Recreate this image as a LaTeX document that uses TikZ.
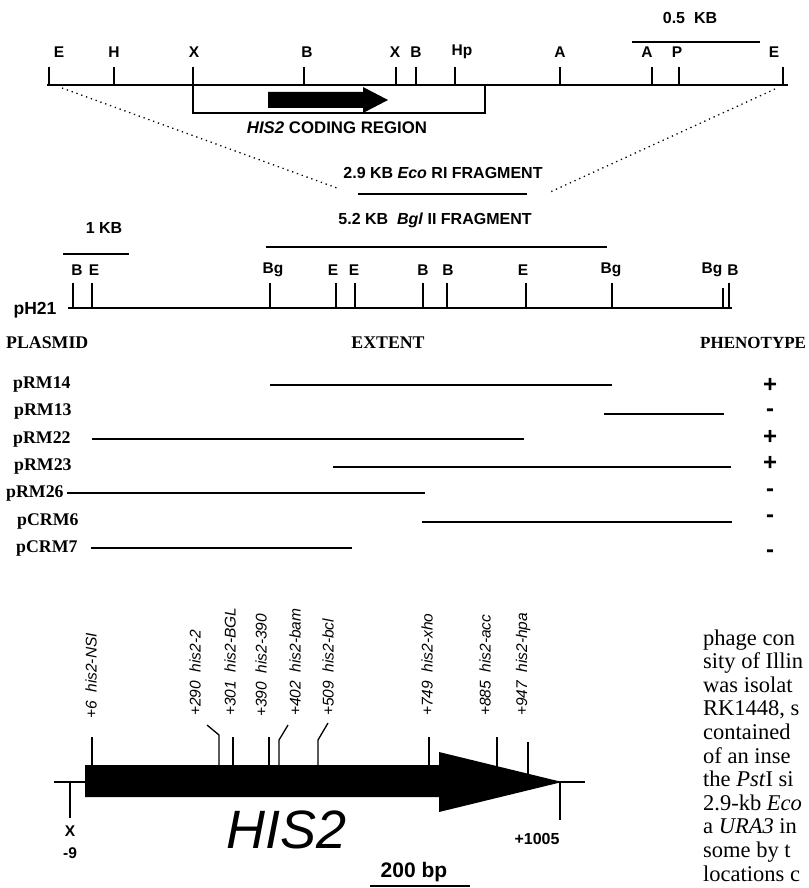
\documentclass[tikz,border=0pt]{standalone}
\usepackage{fontspec}
\setmainfont{Liberation Serif}
\setsansfont{Liberation Sans}
\begin{document}
\begin{tikzpicture}[x=1pt,y=-1pt,
  maplinestyle/.style={line width=2.4pt},
  tickstyle/.style={line width=1.3pt},
  barstyle/.style={line width=1.5pt},
  extstyle/.style={line width=1.3pt},
  sitelab/.style={font=\sffamily\bfseries\fontsize{15.5}{17}\selectfont, inner sep=0},
  headlab/.style={font=\sffamily\bfseries\fontsize{16}{18}\selectfont, inner sep=0},
  tablab/.style={font=\rmfamily\bfseries\fontsize{17.8}{20}\selectfont, inner sep=0, anchor=base west},
  signlab/.style={font=\sffamily\bfseries\fontsize{24}{26}\selectfont, inner sep=0},
  mutlab/.style={font=\sffamily\itshape\fontsize{15.5}{17}\selectfont, inner sep=0, rotate=90, anchor=west},
  bodytext/.style={font=\rmfamily\fontsize{22.5}{24}\selectfont, inner sep=0, anchor=base west},
  dotline/.style={line width=1.3pt, dash pattern=on 1.3pt off 3.8pt}
]
\useasboundingbox (0,0) rectangle (808,888);

% ---------- top restriction map ----------
\coordinate (topL) at (47,85);
\coordinate (topR) at (788,85);
\draw[maplinestyle] (topL) -- (topR);
\foreach \tx/\lx/\t [count=\i] in {49/59/E,114/114/H,193/194/X,304/307/B,396/395/X,416/416/B,455/462/Hp,560/560/A,652/647/A,679/677/P,783/774/E}{
  \draw[tickstyle] (\tx,67) -- (\tx,85);
  \node[sitelab] (ts\i) at (\lx,52) {\t};
}
\node[headlab] (halfkb) at (690,18) {0.5~~KB};
\draw[barstyle] (632,42) -- (760,42);

% coding region box and arrow
\draw[line width=1.5pt] (193,85) -- (193,113) -- (485,113);
\draw[line width=2.6pt] (485,85) -- (485,114.3);
\fill (268,92) -- (363,92) -- (363,87) -- (388,100) -- (363,113) -- (363,108) -- (268,108) -- cycle;
\node[font=\sffamily\bfseries\fontsize{16.8}{18}\selectfont, inner sep=0] (coding) at (337,128) {\textit{HIS2} CODING REGION};

% dotted expansion lines
\coordinate (dl1) at (62,88);
\coordinate (dl2) at (337,188);
\coordinate (dr1) at (775,89);
\coordinate (dr2) at (548,193);
\draw[dotline] (dl1) -- (dl2);
\draw[dotline] (dr1) -- (dr2);

% fragment labels
\node[headlab] (eco) at (443,173) {2.9 KB \textit{Eco} RI FRAGMENT};
\draw[barstyle] (358,194) -- (527,194);
\node[headlab] (bgl) at (435,220) {5.2 KB~~\textit{Bgl} II FRAGMENT};
\draw[barstyle] (266,247) -- (607,247);
\node[headlab] (onekb) at (104,228) {1 KB};
\draw[barstyle] (63,254) -- (129,254);

% ---------- pH21 map ----------
\node[font=\sffamily\bfseries\fontsize{17.5}{19}\selectfont, inner sep=0] (ph) at (35,310) {pH21};
\draw[maplinestyle] (68,308) -- (732,308);
\foreach \tx/\lx/\t [count=\i] in {73/77/B,92/94/E,270/273/Bg,336/333/E,355/354/E,423/423/B,447/448/B,526/523/E,612/611/Bg,729/733/B}{
  \draw[tickstyle] (\tx,283) -- (\tx,308);
  \node[sitelab] (ps\i) at (\lx,270) {\t};
}
\draw[tickstyle] (723,288) -- (723,308);
\node[sitelab] (psx) at (712,270) {Bg};

% ---------- plasmid table ----------
\node[tablab] (hplas) at (6,348) {PLASMID};
\node[font=\rmfamily\bfseries\fontsize{17.8}{20}\selectfont, inner sep=0, anchor=base] (hext) at (388,348) {EXTENT};
\node[tablab, font=\rmfamily\bfseries\fontsize{17}{20}\selectfont] (hphen) at (700,348) {PHENOTYPE};

\node[tablab] (r1) at (13,388) {pRM14};
\node[tablab] (r2) at (14,415) {pRM13};
\node[tablab] (r3) at (13,443) {pRM22};
\node[tablab] (r4) at (14,470) {pRM23};
\node[tablab] (r5) at (6,497) {pRM26};
\node[tablab] (r6) at (17,525) {pCRM6};
\node[tablab] (r7) at (16,552) {pCRM7};

\draw[extstyle] (270,385) -- (612,385);
\draw[extstyle] (604,414) -- (724,414);
\draw[extstyle] (92,439) -- (524,439);
\draw[extstyle] (333,467) -- (731,467);
\draw[extstyle] (67,493) -- (425,493);
\draw[extstyle] (422,522) -- (732,522);
\draw[extstyle] (91,548) -- (352,548);

\node[signlab] (s1) at (770,385) {+};
\node[signlab] (s2) at (770,413) {-};
\node[signlab] (s3) at (770,437) {+};
\node[signlab] (s4) at (770,463) {+};
\node[signlab] (s5) at (770,493) {-};
\node[signlab] (s6) at (770,519) {-};
\node[signlab] (s7) at (770,554) {-};

% ---------- HIS2 gene diagram ----------
\draw[line width=2pt] (54,782) -- (585,782);
\draw[tickstyle] (70,782) -- (70,818);
\draw[tickstyle] (560,782) -- (560,820);

% mutation ticks
\foreach \tx in {92,233,269,429,497}{
  \draw[tickstyle] (\tx,737) -- (\tx,770);
}
\draw[tickstyle] (528,742) -- (528,776);
\draw[tickstyle] (207,725) -- (219,735) -- (219,770);
\draw[tickstyle] (288,725) -- (279,740) -- (279,770);
\draw[tickstyle] (328,723) -- (318,740) -- (318,770);

\fill (85,765) -- (439,765) -- (439,752) -- (562,782) -- (439,812) -- (439,797) -- (85,797) -- cycle;

\node[mutlab] (m1) at (91,719) {+6~~his2-NSI};
\node[mutlab] (m2) at (195,716) {+290~~his2-2};
\node[mutlab] (m3) at (230,716) {+301~~his2-BGL};
\node[mutlab] (m4) at (261,717) {+390~~his2-390};
\node[mutlab] (m5) at (295,716) {+402~~his2-bam};
\node[mutlab] (m6) at (328,716) {+509~~his2-bcl};
\node[mutlab] (m7) at (427,716) {+749~~his2-xho};
\node[mutlab] (m8) at (485,716) {+885~~his2-acc};
\node[mutlab] (m9) at (523,716) {+947~~his2-hpa};

\node[font=\sffamily\itshape\fontsize{54}{56}\selectfont, inner sep=0] (his) at (287,830) {HIS2};
\node[sitelab] (xl) at (70,831) {X};
\node[sitelab] (nine) at (70,853) {-9};
\node[font=\sffamily\bfseries\fontsize{16}{18}\selectfont, inner sep=0] (endl) at (537,839) {+1005};
\node[font=\sffamily\bfseries\fontsize{21}{23}\selectfont, inner sep=0] (bp) at (414,872) {200 bp};
\draw[barstyle] (370,886) -- (470,886);

% ---------- page text (cropped at the edge) ----------
\begin{scope}
\clip (0,0) rectangle (808,888);
\node[bodytext] (b1) at (703,645) {phage con};
\node[bodytext] (b2) at (703,668.6) {sity of Illin};
\node[bodytext] (b3) at (703,692.2) {was isolat};
\node[bodytext] (b4) at (703,715.8) {RK1448, s};
\node[bodytext] (b5) at (703,739.4) {contained};
\node[bodytext] (b6) at (703,763) {of an inse};
\node[bodytext] (b7) at (703,786.6) {the \textit{Pst}I si};
\node[bodytext] (b8) at (703,810.2) {2.9-kb \textit{Eco}};
\node[bodytext] (b9) at (703,833.8) {a \textit{URA3} in};
\node[bodytext] (b10) at (703,857.4) {some by t};
\node[bodytext] (b11) at (703,881) {locations c};
\end{scope}
\end{tikzpicture}
\end{document}
